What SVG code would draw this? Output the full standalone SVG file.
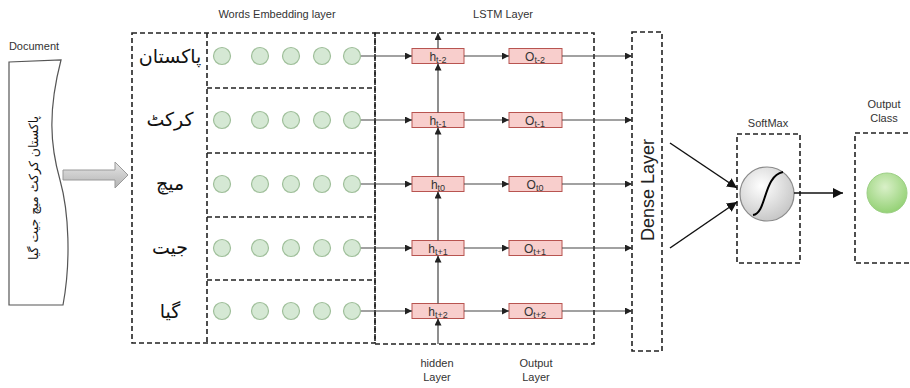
<svg xmlns="http://www.w3.org/2000/svg" width="910" height="388" viewBox="0 0 910 388">
<defs>
<style>
.lbl{font-family:"Liberation Sans",Arial,sans-serif;font-size:11px;fill:#333;text-anchor:middle}
.ur{font-family:"DejaVu Sans",sans-serif;font-size:19px;fill:#111;text-anchor:middle}
.dash{fill:none;stroke:#222;stroke-width:1.6;stroke-dasharray:5 3}
.emb{fill:#d5e8d4;stroke:#9fbf9a;stroke-width:1.2}
.cell{fill:#f8cecc;stroke:#b85450;stroke-width:1}
.ct{font-family:"Liberation Sans",Arial,sans-serif;font-size:12px;fill:#333;text-anchor:middle}
.conn{stroke:#444;stroke-width:1.2;fill:none;marker-end:url(#ah)}
</style>
<marker id="ah" viewBox="0 0 10 10" refX="10" refY="5" markerWidth="7" markerHeight="7" markerUnits="userSpaceOnUse" orient="auto">
<path d="M0,0 L10,5 L0,10 Z" fill="#222"/>
</marker>
<marker id="ah2" viewBox="0 0 10 10" refX="10" refY="5" markerWidth="10" markerHeight="10" markerUnits="userSpaceOnUse" orient="auto">
<path d="M0,0 L10,5 L0,10 Z" fill="#111"/>
</marker>
<linearGradient id="gArrow" x1="0" y1="0" x2="0" y2="1">
<stop offset="0" stop-color="#e6e6e6"/><stop offset="1" stop-color="#b3b3b3"/>
</linearGradient>
<radialGradient id="gSoft" cx="0.4" cy="0.35" r="0.7">
<stop offset="0" stop-color="#ffffff"/><stop offset="1" stop-color="#c4c4c4"/>
</radialGradient>
<radialGradient id="gOut" cx="0.45" cy="0.35" r="0.7">
<stop offset="0" stop-color="#d9f0c8"/><stop offset="1" stop-color="#8fcf6f"/>
</radialGradient>
</defs>

<g id="document">
<text class="lbl" x="34" y="50">Document</text>
<path d="M9,62 L61,60 C48,110 50,145 60,180 C69,212 71,262 63,305 L9,305 Z" fill="#fff" stroke="#555" stroke-width="1.2"/>
<text class="ur" transform="translate(38,188) rotate(-90)" style="font-size:12.5px">پاکستان کرکٹ میچ جیت گیا</text>
</g>

<g id="input-arrow">
<path d="M63,170 L115,170 L115,162 L128,175 L115,188 L115,180 L63,180 Z" fill="url(#gArrow)" stroke="#999" stroke-width="1"/>
</g>

<g id="words-column">
<rect class="dash" x="132" y="33" width="243" height="310"/>
<line class="dash" x1="207" y1="33" x2="207" y2="343"/>
<text class="ur" x="170" y="63">پاکستان</text>
<text class="ur" x="170" y="126">کرکٹ</text>
<text class="ur" x="170" y="190">میچ</text>
<text class="ur" x="170" y="254">جیت</text>
<text class="ur" x="170" y="318">گیا</text>
</g>

<g id="embedding-layer">
<text class="lbl" x="277" y="18">Words Embedding layer</text>
<line class="dash" x1="207" y1="88" x2="375" y2="88"/>
<line class="dash" x1="207" y1="153" x2="375" y2="153"/>
<line class="dash" x1="207" y1="217" x2="375" y2="217"/>
<line class="dash" x1="207" y1="280" x2="375" y2="280"/>
<g id="emb-row1"><circle class="emb" cx="222" cy="56" r="8.5"/><circle class="emb" cx="260" cy="56" r="8.5"/><circle class="emb" cx="291" cy="56" r="8.5"/><circle class="emb" cx="322" cy="56" r="8.5"/><circle class="emb" cx="352" cy="56" r="8.5"/></g>
<g id="emb-row2"><circle class="emb" cx="222" cy="120" r="8.5"/><circle class="emb" cx="260" cy="120" r="8.5"/><circle class="emb" cx="291" cy="120" r="8.5"/><circle class="emb" cx="322" cy="120" r="8.5"/><circle class="emb" cx="352" cy="120" r="8.5"/></g>
<g id="emb-row3"><circle class="emb" cx="222" cy="184" r="8.5"/><circle class="emb" cx="260" cy="184" r="8.5"/><circle class="emb" cx="291" cy="184" r="8.5"/><circle class="emb" cx="322" cy="184" r="8.5"/><circle class="emb" cx="352" cy="184" r="8.5"/></g>
<g id="emb-row4"><circle class="emb" cx="222" cy="248" r="8.5"/><circle class="emb" cx="260" cy="248" r="8.5"/><circle class="emb" cx="291" cy="248" r="8.5"/><circle class="emb" cx="322" cy="248" r="8.5"/><circle class="emb" cx="352" cy="248" r="8.5"/></g>
<g id="emb-row5"><circle class="emb" cx="222" cy="311" r="8.5"/><circle class="emb" cx="260" cy="311" r="8.5"/><circle class="emb" cx="291" cy="311" r="8.5"/><circle class="emb" cx="322" cy="311" r="8.5"/><circle class="emb" cx="352" cy="311" r="8.5"/></g>
</g>

<g id="lstm-layer">
<text class="lbl" x="503" y="18">LSTM Layer</text>
<rect class="dash" x="375" y="33" width="219" height="311"/>
<text class="lbl" x="437" y="367">hidden</text>
<text class="lbl" x="437" y="381">Layer</text>
<text class="lbl" x="536" y="367">Output</text>
<text class="lbl" x="536" y="381">Layer</text>
</g>

<g id="h1"><rect class="cell" x="412" y="48.5" width="52" height="15"/><text class="ct" x="438" y="60.5">h<tspan font-size="9" dy="2">t-2</tspan></text></g>
<g id="h2"><rect class="cell" x="412" y="112.5" width="52" height="15"/><text class="ct" x="438" y="124.5">h<tspan font-size="9" dy="2">t-1</tspan></text></g>
<g id="h3"><rect class="cell" x="412" y="176.5" width="52" height="15"/><text class="ct" x="438" y="188.5">h<tspan font-size="9" dy="2">t0</tspan></text></g>
<g id="h4"><rect class="cell" x="412" y="240.5" width="52" height="15"/><text class="ct" x="438" y="252.5">h<tspan font-size="9" dy="2">t+1</tspan></text></g>
<g id="h5"><rect class="cell" x="412" y="303.5" width="52" height="15"/><text class="ct" x="438" y="315.5">h<tspan font-size="9" dy="2">t+2</tspan></text></g>

<g id="o1"><rect class="cell" x="509" y="48.5" width="53" height="15"/><text class="ct" x="535" y="60.5">O<tspan font-size="9" dy="2">t-2</tspan></text></g>
<g id="o2"><rect class="cell" x="509" y="112.5" width="53" height="15"/><text class="ct" x="535" y="124.5">O<tspan font-size="9" dy="2">t-1</tspan></text></g>
<g id="o3"><rect class="cell" x="509" y="176.5" width="53" height="15"/><text class="ct" x="535" y="188.5">O<tspan font-size="9" dy="2">t0</tspan></text></g>
<g id="o4"><rect class="cell" x="509" y="240.5" width="53" height="15"/><text class="ct" x="535" y="252.5">O<tspan font-size="9" dy="2">t+1</tspan></text></g>
<g id="o5"><rect class="cell" x="509" y="303.5" width="53" height="15"/><text class="ct" x="535" y="315.5">O<tspan font-size="9" dy="2">t+2</tspan></text></g>

<g id="dense-layer">
<rect class="dash" x="632" y="32" width="30" height="319"/>
<text transform="translate(654,190) rotate(-90)" font-family="Liberation Sans,Arial,sans-serif" font-size="18" fill="#222" text-anchor="middle">Dense Layer</text>
</g>

<g id="softmax">
<text class="lbl" x="768" y="127">SoftMax</text>
<rect class="dash" x="737" y="134" width="63" height="129"/>
<circle cx="767" cy="194" r="27" fill="url(#gSoft)" stroke="#8a8a8a" stroke-width="1.2"/>
<path d="M753,215 C767,213 763,176 783,172" fill="none" stroke="#000" stroke-width="2"/>
</g>

<g id="output-class">
<text class="lbl" x="884" y="108">Output</text>
<text class="lbl" x="884" y="122">Class</text>
<rect class="dash" x="855" y="133" width="70" height="130"/>
<circle cx="887" cy="193" r="20" fill="url(#gOut)" stroke="#9ccf85" stroke-width="1"/>
</g>

<g id="connectors">
<line class="conn" x1="361" y1="56" x2="412" y2="56"/>
<line class="conn" x1="361" y1="120" x2="412" y2="120"/>
<line class="conn" x1="361" y1="184" x2="412" y2="184"/>
<line class="conn" x1="361" y1="248" x2="412" y2="248"/>
<line class="conn" x1="361" y1="311" x2="412" y2="311"/>
<line class="conn" x1="464" y1="56" x2="509" y2="56"/>
<line class="conn" x1="464" y1="120" x2="509" y2="120"/>
<line class="conn" x1="464" y1="184" x2="509" y2="184"/>
<line class="conn" x1="464" y1="248" x2="509" y2="248"/>
<line class="conn" x1="464" y1="311" x2="509" y2="311"/>
<line class="conn" x1="562" y1="56" x2="632" y2="56"/>
<line class="conn" x1="562" y1="120" x2="632" y2="120"/>
<line class="conn" x1="562" y1="184" x2="632" y2="184"/>
<line class="conn" x1="562" y1="248" x2="632" y2="248"/>
<line class="conn" x1="562" y1="311" x2="632" y2="311"/>
<line class="conn" x1="438" y1="344" x2="438" y2="318.5"/>
<line class="conn" x1="438" y1="303.5" x2="438" y2="255.5"/>
<line class="conn" x1="438" y1="240.5" x2="438" y2="191.5"/>
<line class="conn" x1="438" y1="176.5" x2="438" y2="127.5"/>
<line class="conn" x1="438" y1="112.5" x2="438" y2="63.5"/>
<line class="conn" x1="438" y1="48.5" x2="438" y2="33"/>
<line x1="670" y1="143" x2="737" y2="188" stroke="#111" stroke-width="1.5" marker-end="url(#ah2)"/>
<line x1="670" y1="248" x2="737" y2="202" stroke="#111" stroke-width="1.5" marker-end="url(#ah2)"/>
<line x1="794" y1="193" x2="843" y2="193" stroke="#111" stroke-width="1.5" marker-end="url(#ah2)"/>
</g>
</svg>
